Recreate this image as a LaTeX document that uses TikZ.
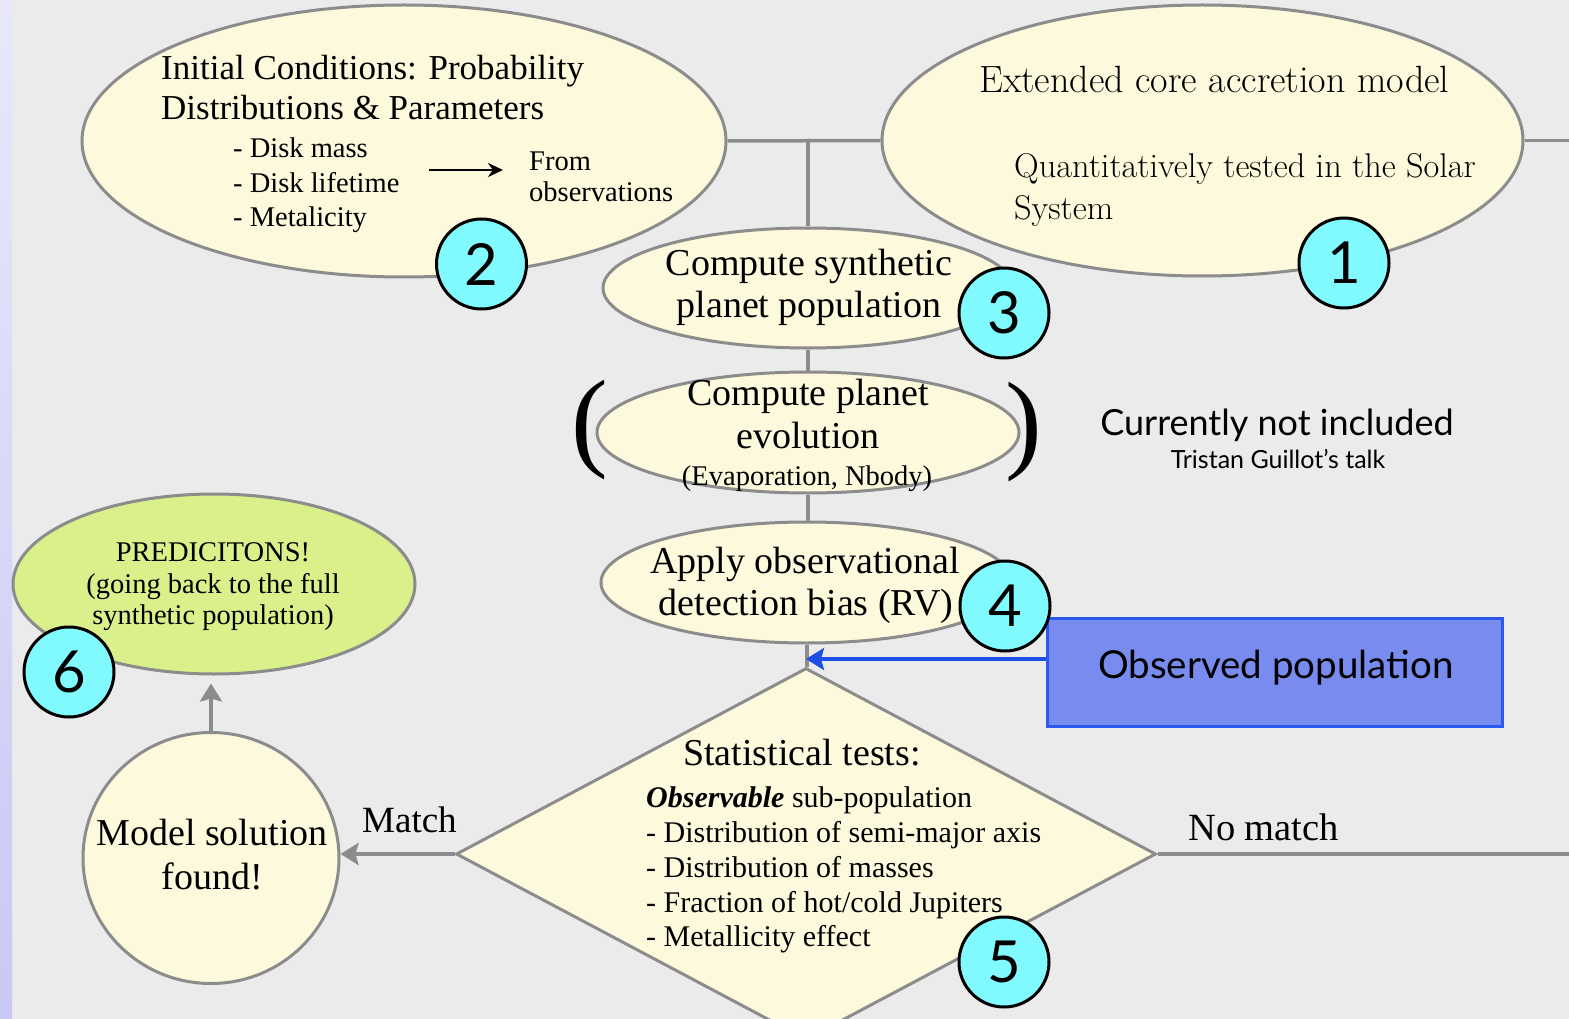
\documentclass[tikz,border=0pt]{standalone}
\usepackage{fontspec}
\setmainfont{Liberation Serif}
\newfontfamily\lmfont{Latin Modern Roman}
\newfontfamily\gillf{Lato}
\usetikzlibrary{shapes.geometric,arrows.meta,calc}
\definecolor{bgc}{HTML}{EBEBEB}
\definecolor{creamc}{HTML}{FDF9DC}
\definecolor{lgray}{HTML}{8C8C8C}
\definecolor{greenc}{HTML}{DAF08A}
\definecolor{cyanc}{HTML}{80FAFF}
\definecolor{boxfill}{HTML}{788CF0}
\definecolor{boxline}{HTML}{2A5AF0}
\definecolor{arrblue}{HTML}{1E4FE6}
\definecolor{stripetop}{HTML}{E8E8FA}
\definecolor{stripebot}{HTML}{C8C8F4}
\newcommand\myfA{\fontsize{35}{40}\selectfont}
\newcommand\myfB{\fontsize{28.5}{33}\selectfont}
\newcommand\myfC{\fontsize{38}{42}\selectfont}
\newcommand\myfD{\fontsize{30}{35}\selectfont}
\tikzset{
  creamell/.style={ellipse, draw=lgray, line width=3pt, fill=creamc, inner sep=0pt},
  numc/.style={circle, draw=black, line width=3pt, fill=cyanc, minimum size=90pt, inner sep=0pt, font=\gillf\fontsize{58}{58}\selectfont},
  conn/.style={draw=lgray, line width=3.5pt},
  garrow/.style={conn, -{Stealth[length=18pt,width=22pt,inset=3pt]}},
  barrow/.style={draw=arrblue, line width=3.5pt, -{Stealth[length=18pt,width=22pt,inset=3pt]}},
  tx/.style={inner sep=0pt, anchor=base},
  txw/.style={inner sep=0pt, anchor=base west},
}
\begin{document}
\begin{tikzpicture}[x=1pt,y=-1pt]
\useasboundingbox (0,0) rectangle (1569,1019);
\fill[bgc] (0,0) rectangle (1569,1019);
\fill[top color=stripetop, bottom color=stripebot] (0,0) rectangle (12,1019);

% main shapes
\node[creamell, minimum width=644pt, minimum height=272pt] (e2) at (404,141) {};
\node[creamell, minimum width=641pt, minimum height=271pt] (e1) at (1202.5,140.5) {};
\node[creamell, minimum width=410pt, minimum height=120pt] (e3) at (808,288) {};
\node[creamell, minimum width=422pt, minimum height=121pt] (ev) at (808,432.5) {};
\node[creamell, minimum width=412pt, minimum height=121pt] (e4) at (807,582.5) {};
\node[diamond, draw=lgray, line width=3pt, fill=creamc, inner sep=0pt, aspect=1.88, minimum width=700pt, minimum height=372pt] (dia) at (806,854) {};
\node[creamell, minimum width=256pt, minimum height=251pt] (ms) at (211,858) {};
\node[ellipse, draw=lgray, line width=3pt, fill=greenc, inner sep=0pt, minimum width=402pt, minimum height=180pt] (pred) at (214,584) {};
\node[draw=boxline, fill=boxfill, line width=3pt, inner sep=0pt, minimum width=455pt, minimum height=108pt] (obs) at (1274.5,672) {};

% connectors
\coordinate (j1) at (808,141);
\coordinate (rt) at (1569,140.5);
\coordinate (rb) at (1569,854);
\coordinate (bt) at (806,659);
\draw[conn] (e2.east) -- (e1.west);
\draw[conn] (j1) -- (e3.north);
\draw[conn] (e1.east) -- (rt);
\draw[conn] (e3.south) -- (ev.north);
\draw[conn] (ev.south) -- (ev.south |- e4.north);
\draw[conn] (e4.south) -- (e4.south |- dia.north);
\draw[barrow] (obs.west |- bt) -- (bt);
\draw[garrow] (dia.west) -- (dia.west -| ms.east);
\draw[conn] (dia.east) -- (rb);
\draw[garrow, shorten >=8pt] (ms.north) -- (ms.north |- pred.south);

% number circles
\node[numc] (n1) at (1344,263) {1};
\node[numc] (n2) at (481.5,264) {2};
\node[numc] (n3) at (1004,313) {3};
\node[numc] (n4) at (1005,606) {4};
\node[numc] (n5) at (1004,962) {5};
\node[numc] (n6) at (69,672) {6};

% texts of ellipse 2
\node[txw, font=\myfA] (t2a) at (161,80) {Initial Conditions: Probability};
\node[txw, font=\myfA] (t2b) at (161,120) {Distributions \& Parameters};
\node[txw, font=\myfB] (t2c) at (233,158) {- Disk mass};
\node[txw, font=\myfB] (t2d) at (233,193) {- Disk lifetime};
\node[txw, font=\myfB] (t2e) at (233,226) {- Metalicity};
\node[txw, font=\myfB] (t2f) at (529,171) {From};
\node[txw, font=\myfB] (t2g) at (529,202) {observations};
\coordinate (a1) at (429,170);
\coordinate (a2) at (503,170);
\draw[black, line width=2.8pt, -{Stealth[length=15pt,width=14pt]}] (a1) -- (a2);

% texts of ellipse 1
\node[txw, font=\lmfont\fontsize{38}{42}\selectfont] (t1a) at (979,93) {Extended core accretion model};
\node[txw, font=\lmfont\fontsize{34.3}{40}\selectfont] (t1b) at (1014,178) {Quantitatively tested in the Solar};
\node[txw, font=\lmfont\fontsize{34.3}{40}\selectfont] (t1c) at (1014,220) {System};

% ellipse 3
\node[tx, font=\myfC] (t3a) at (809,275) {Compute synthetic};
\node[tx, font=\myfC] (t3b) at (809,317) {planet population};

% evolution
\node[tx, font=\myfC] (tva) at (808,405) {Compute planet};
\node[tx, font=\myfC] (tvb) at (808,448) {evolution};
\node[tx, font=\myfB] (tvc) at (807,485) {(Evaporation, Nbody)};
\node[inner sep=0pt, font=\fontsize{110}{110}\selectfont] (lp) at (590,430) {(};
\node[inner sep=0pt, font=\fontsize{110}{110}\selectfont] (rp) at (1024,432) {)};

% ellipse 4
\node[tx, font=\myfC] (t4a) at (805,573) {Apply observational};
\node[tx, font=\myfC] (t4b) at (806,615) {detection bias (RV)};

% notes
\node[tx, font=\gillf\fontsize{36}{40}\selectfont] (cn) at (1277,435) {Currently not included};
\node[tx, font=\gillf\fontsize{25}{28}\selectfont] (tg) at (1278,468) {Tristan Guillot’s talk};
\node[tx, font=\gillf\fontsize{38.5}{42}\selectfont] (tobs) at (1276,678) {Observed population};

% predictions
\node[tx, font=\myfB] (tpa) at (213,561) {PREDICITONS!};
\node[tx, font=\myfB] (tpb) at (213,593) {(going back to the full};
\node[tx, font=\myfB] (tpc) at (213,624) {synthetic population)};

% model solution
\node[tx, font=\myfC] (tma) at (212,845) {Model solution};
\node[tx, font=\myfC] (tmb) at (212,889) {found!};
\node[txw, font=\fontsize{37}{40}\selectfont] (tmatch) at (362,832) {Match};
\node[txw, font=\fontsize{38.5}{42}\selectfont] (tnomatch) at (1188,840) {No match};

% diamond texts
\node[tx, font=\myfC] (tda) at (802,765) {Statistical tests:};
\node[txw, font=\myfD] (tdb) at (646,807) {\textbf{\textit{Observable}} sub-population};
\node[txw, font=\myfD] (tdc) at (646,842) {- Distribution of semi-major axis};
\node[txw, font=\myfD] (tdd) at (646,877) {- Distribution of masses};
\node[txw, font=\myfD] (tde) at (646,912) {- Fraction of hot/cold Jupiters};
\node[txw, font=\myfD] (tdf) at (646,946) {- Metallicity effect};
\end{tikzpicture}
\end{document}
